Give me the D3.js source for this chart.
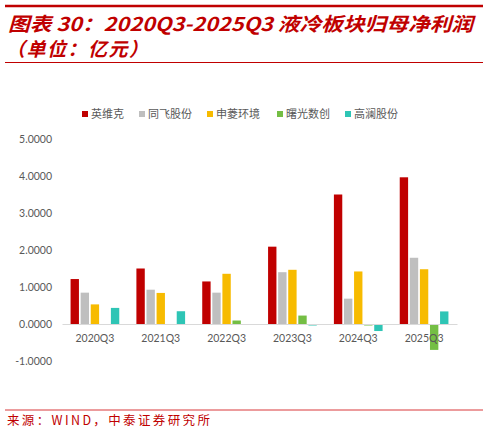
<!doctype html>
<html lang="zh">
<head>
<meta charset="utf-8">
<script src="https://d3js.org/d3.v7.min.js"></script>
<style>
  body { margin: 0; background: #fff; }
  .title { fill: #C00000; font-family: "Noto Sans CJK SC"; font-weight: bold; font-style: italic; font-size: 19px; }
  .legend-text { fill: #595959; font-family: "Noto Sans CJK SC"; font-size: 11px; }
  .tick text { fill: #595959; font-family: Lato, "Open Sans", sans-serif; font-size: 10.5px; }
  .source { fill: #C00000; font-family: "Noto Sans CJK SC"; font-size: 12.5px; }
</style>
</head>
<body>
<div id="chart"></div>
<script>
  let categories = ["2020Q3", "2021Q3", "2022Q3", "2023Q3", "2024Q3", "2025Q3"];
  let series = ["英维克", "同飞股份", "申菱环境", "曙光数创", "高澜股份"];
  let colors = ["#C00000", "#BFBFBF", "#F7BB00", "#74BE44", "#2EC5B5"];

  let yingweike = [1.215, 1.50, 1.15, 2.09, 3.50, 3.965];
  let tongfei   = [0.847, 0.927, 0.847, 1.40, 0.685, 1.79];
  let shenling  = [0.53, 0.84, 1.357, 1.465, 1.42, 1.48];
  let shuguang  = [0, 0, 0.094, 0.228, -0.04, -0.70];
  let gaolan    = [0.435, 0.345, 0, -0.04, -0.19, 0.34];
  let values = [yingweike, tongfei, shenling, shuguang, gaolan];

  let yTicks = [-1, 0, 1, 2, 3, 4, 5];

  let width = 488, height = 433;

  let svg = d3.select("#chart").append("svg")
      .attr("width", width)
      .attr("height", height);

  // header lines + title
  svg.append("line").attr("x1", 5).attr("x2", 483).attr("y1", 6).attr("y2", 6)
     .attr("stroke", "#C00000").attr("stroke-width", 2.5);
  svg.append("text").attr("class", "title").attr("x", 8).attr("y", 31)
     .attr("textLength", 465).attr("lengthAdjust", "spacingAndGlyphs")
     .text("图表 30：2020Q3-2025Q3 液冷板块归母净利润");
  svg.append("text").attr("class", "title").attr("x", 6).attr("y", 56)
     .attr("textLength", 142).attr("lengthAdjust", "spacing")
     .text("（单位：亿元）");
  svg.append("line").attr("x1", 5).attr("x2", 483).attr("y1", 62.5).attr("y2", 62.5)
     .attr("stroke", "#C00000").attr("stroke-width", 1);

  // scales
  let x = d3.scaleBand().domain(categories).range([62, 457]);
  let xSub = d3.scaleBand().domain(series).range([0, x.bandwidth()])
      .paddingInner(0.17).paddingOuter(0.85);
  let y = d3.scaleLinear().domain([-1, 5]).range([361, 139]);

  // y axis (no line, labels only)
  let yAxis = svg.append("g").attr("transform", "translate(52,0)")
      .call(d3.axisLeft(y).tickValues(yTicks).tickSize(0).tickPadding(0)
        .tickFormat(d => d.toFixed(4)));
  yAxis.select(".domain").remove();

  // bars
  series.forEach((s, i) => {
    svg.append("g").selectAll("rect")
      .data(categories.map((c, j) => ({c: c, v: values[i][j]})))
      .join("rect")
      .attr("x", d => x(d.c) + xSub(s))
      .attr("width", xSub.bandwidth())
      .attr("y", d => y(Math.max(0, d.v)))
      .attr("height", d => Math.abs(y(d.v) - y(0)))
      .attr("fill", colors[i]);
  });

  // x axis at zero
  let xAxis = svg.append("g").attr("transform", "translate(0," + y(0) + ")")
      .call(d3.axisBottom(x).tickSize(0).tickPadding(11));
  xAxis.select(".domain").attr("stroke", "#D9D9D9").attr("stroke-width", 1.2);

  // legend
  let legendX = [82, 139, 207, 277, 345];
  let legend = svg.append("g").selectAll("g").data(series).join("g")
      .attr("transform", (d, i) => "translate(" + legendX[i] + ",114)");
  legend.append("rect").attr("x", 0).attr("y", -3).attr("width", 6).attr("height", 6)
      .attr("fill", (d, i) => colors[i]);
  legend.append("text").attr("class", "legend-text").attr("x", 9).attr("y", 4).text(d => d);

  // source
  svg.append("line").attr("x1", 5).attr("x2", 483).attr("y1", 410).attr("y2", 410)
     .attr("stroke", "#D9383A").attr("stroke-width", 1);
  svg.append("text").attr("class", "source").attr("x", 7).attr("y", 425)
     .attr("textLength", 203).attr("lengthAdjust", "spacing")
     .text("来源：WIND，中泰证券研究所");
</script>
</body>
</html>
